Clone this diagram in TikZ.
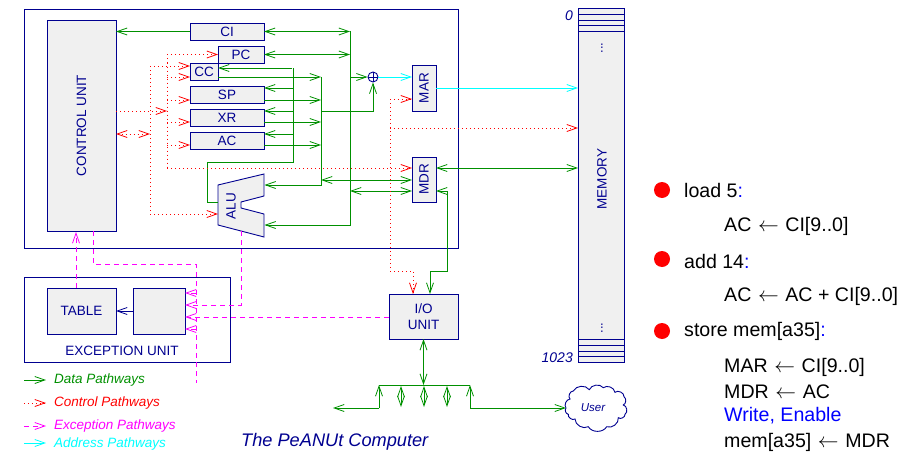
\documentclass[tikz,border=0pt]{standalone}
\usepackage{fontspec}
\setmainfont{Liberation Sans}
\usetikzlibrary{arrows.meta}
\definecolor{nv}{RGB}{0,0,144}
\definecolor{gr}{RGB}{0,144,0}
\definecolor{rd}{RGB}{255,0,0}
\definecolor{mg}{RGB}{255,0,255}
\definecolor{cy}{RGB}{0,255,255}
\definecolor{bl}{RGB}{0,0,255}
\definecolor{fillg}{RGB}{240,240,240}
\newcommand{\larr}{\hspace{6.6pt}{\fontsize{20.74}{21}\selectfont$\leftarrow$}\hspace{6.6pt}}
\tikzset{
  >={Straight Barb[length=10pt,width=7pt,line width=0.8pt]},
  box/.style={draw=nv,fill=fillg,line width=0.9pt,inner sep=0pt,outer sep=0pt,text=nv,font=\fontsize{13.5}{15.5}\selectfont,align=center},
  frame/.style={draw=nv,line width=0.9pt,inner sep=0pt,outer sep=0pt},
  data/.style={draw=gr,line width=0.9pt},
  ctrl/.style={draw=rd,line width=0.9pt,dash pattern=on 1pt off 3pt},
  exc/.style={draw=mg,line width=0.9pt,dash pattern=on 5pt off 4pt},
  addr/.style={draw=cy,line width=0.9pt},
  lbl/.style={font=\fontsize{13.5}{15.5}\selectfont,text=nv,inner sep=0pt},
  leg/.style={font=\fontsize{13.5}{15.5}\itshape,anchor=west,inner sep=0pt},
  big/.style={font=\fontsize{19.6}{22}\selectfont,anchor=west,inner sep=0pt,text=black},
  ball/.style={circle,fill=rd,minimum size=16pt,inner sep=0pt}
}
\begin{document}
\begin{tikzpicture}[x=1pt,y=-1pt]
\useasboundingbox (0,0) rectangle (912,452);
% frames
\node[frame,minimum width=434pt,minimum height=239pt] (cpu) at (241,128.5) {};
\node[frame,minimum width=206pt,minimum height=85pt] (excu) at (127,319.5) {};
% boxes
\node[box,minimum width=69pt,minimum height=211pt] (cu) at (81.5,125.5) {\rotatebox{90}{CONTROL UNIT}};
\node[box,minimum width=74pt,minimum height=17pt] (ci) at (227,31.5) {CI};
\node[box,minimum width=46pt,minimum height=17pt] (pc) at (241,54.5) {PC};
\node[box,minimum width=28pt,minimum height=17pt] (cc) at (204,71.5) {CC};
\node[box,minimum width=74pt,minimum height=17pt] (sp) at (227,94.5) {SP};
\node[box,minimum width=74pt,minimum height=17pt] (xr) at (227,117.5) {XR};
\node[box,minimum width=74pt,minimum height=17pt] (ac) at (227,140.5) {AC};
\node[box,minimum width=24pt,minimum height=46pt] (mar) at (424,88) {\rotatebox{90}{MAR}};
\node[box,minimum width=24pt,minimum height=45pt] (mdr) at (424,179.5) {\rotatebox{90}{MDR}};
\node[box,minimum width=46pt,minimum height=354pt] (mem) at (601,185) {};
\node[box,minimum width=69pt,minimum height=46pt] (tbl) at (81.5,311) {TABLE};
\node[box,minimum width=52pt,minimum height=46pt] (sbox) at (159,311) {};
\node[box,minimum width=69pt,minimum height=45pt] (io) at (423.5,316.5) {I/O\\UNIT};
\node[lbl] (excl) at (122,351) {EXCEPTION UNIT};
% ALU
\draw[draw=nv,fill=fillg,line width=0.9pt] (218,185) coordinate (aluA) -- (264,174) -- (264,196) coordinate (aluB) -- (241,202) -- (241,208) -- (264,214) coordinate (aluC) -- (264,237) -- (218,225) coordinate (aluD) -- cycle;
\node[lbl] (alu) at (231,206) {\rotatebox{90}{ALU}};
% memory detail
\foreach \yy in {14,20,25.5,31,339.5,345,351,356.5}{
  \draw[draw=nv,line width=0.9pt] (mem.west |- 0,\yy) -- (mem.east |- 0,\yy);
}
\node[lbl] (memlabel) at (602,179) {\rotatebox{90}{MEMORY}};
\node[lbl,font=\fontsize{13}{15}\selectfont] (dots1) at (602,48) {\rotatebox{90}{...}};
\node[lbl,font=\fontsize{13}{15}\selectfont] (dots2) at (602,328) {\rotatebox{90}{...}};
\node[lbl,font=\fontsize{14}{16}\itshape,anchor=east] (m0) at (573,16) {0};
\node[lbl,font=\fontsize{14}{16}\itshape,anchor=east] (m1) at (573,358) {1023};
% adder
\node[draw=nv,circle,minimum size=10pt,inner sep=0pt,line width=0.9pt] (add) at (373,77) {};
\draw[draw=nv,line width=0.9pt] (add.north) -- (add.south) (add.west) -- (add.east);
% buses
\coordinate (busA) at (350,0);
\coordinate (busB) at (321,0);
\coordinate (busC) at (293,0);
\coordinate (ctlA) at (167,0);
\coordinate (ctlB) at (150,0);
\coordinate (ctlC) at (390,0);
\coordinate (ioR) at (447,271);
% data
\draw[data,->] (ci.west) -- (cu.east |- ci.west);
\draw[data,<->] (ci.east) -- (busA |- ci.east);
\draw[data,<->] (pc.east) -- (busA |- pc.east);
\draw[data,->] (busA |- ci.east) -- (350,225) -- (264.5,225);
\draw[data,->] (busA |- add.west) -- (add.west);
\draw[data,->] ([yshift=3.5pt]cc.east) coordinate (t) ++(74,0) -- (t);
\draw[data,->] ([yshift=-5.5pt]cc.east) coordinate (t) -- (t -| busB);
\draw[data,->] ([yshift=-5.5pt]sp.east) coordinate (t) -- (t -| busB);
\draw[data,->] ([yshift=-4.5pt]xr.east) coordinate (t) -- (t -| busB);
\draw[data,->] ([yshift=-4.5pt]ac.east) coordinate (t) -- (t -| busB);
\draw[data,->] (t -| busC) ++(0,-11) coordinate (u) -- (ac.east |- u);
\draw[data,->] (busC |- 0,111) coordinate (u) -- (xr.east |- u);
\draw[data,->] (busC |- 0,88) coordinate (u) -- (sp.east |- u);
\draw[data] (busC |- 0,68) -- (293,162) -- (207,162) -- (207,202) -- (218,202);
\draw[data,->] (busB |- 0,77) -- (321,185) -- (264.5,185);
\draw[data,->] (busB |- 0,111) -| (add.south);
\draw[data,<->] (busB |- 0,180) -- (mdr.west |- 0,180);
\draw[data,<->] (busA |- 0,191) -- (mdr.west |- 0,191);
\draw[data,<->] (mdr.east |- 0,168) -- (mem.west |- 0,168);
\draw[data,<->] (mdr.east |- 0,191) -- (ioR |- 0,191) -- (ioR) -- (430,271) -- (io.north -| 430,0);
\draw[data,<->] (io.south) -- (io.south |- 0,385);
% bus below io
\coordinate (busL) at (379,385);
\coordinate (busR) at (470,385);
\coordinate (fl) at (333,408);
\coordinate (usr) at (566,408);
\node[inner sep=0pt,text=nv,font=\fontsize{11.5}{13}\itshape] (user) at (593,408) {User};
\draw[draw=nv,line width=0.9pt] (usr)
  to[bend left=60] (570,399) to[bend left=70] (573.3,391) to[bend left=60] (589.3,389.7)
  to[bend left=60] (603.3,387.7) to[bend left=60] (615,392.3) to[bend left=70] (624,396.7)
  to[bend left=60] (623.3,405) to[bend left=70] (625,414.3) to[bend left=70] (618.3,417.7)
  to[bend left=60] (606.7,426.7) to[bend left=60] (588.3,426.7) to[bend left=60] (575,419)
  to[bend left=70] (568.3,414.3) to[bend left=60] cycle;
\draw[data] (busL) -- (busR);
\draw[data,->] (379,408) -- (busL);
\draw[data,->] (379,408) -- (fl);
\draw[data,->] (470,408) -- (busR);
\draw[data,->] (470,408) -- (usr);
\draw[data,<->] (401,386) -- (401,407);
\draw[data,<->] (424,386) -- (424,407);
\draw[data,<->] (447,386) -- (447,407);
% control
\draw[ctrl,->] (cu.east |- 0,111) -- (ctlA |- 0,111);
\draw[ctrl,<->] (cu.east |- 0,134) -- (ctlB |- 0,134);
\draw[ctrl,->] (ctlA |- pc.west) coordinate (t) -- (pc.west);
\draw[ctrl] (t) -- (167,168) coordinate (u);
\draw[ctrl,->] (u) -- (mdr.west |- u);
\draw[ctrl,->] (ctlA |- 0,77) coordinate (t) -- (cc.west |- t);
\draw[ctrl,->] (ctlA |- 0,100) coordinate (t) -- (sp.west |- t);
\draw[ctrl,->] (ctlA |- 0,122) coordinate (t) -- (xr.west |- t);
\draw[ctrl,->] (ctlA |- 0,145) coordinate (t) -- (ac.west |- t);
\draw[ctrl,->] (ctlB |- 0,66) coordinate (t) -- (cc.west |- t);
\draw[ctrl,->] (t) -- (150,214) -- (218,214);
\draw[ctrl,->] (ctlC |- 0,99) coordinate (t) -- (mar.west |- t);
\draw[ctrl,->] (ctlC |- 0,128) coordinate (u) -- (mem.west |- u);
\draw[ctrl,->] (t) -- (390,271) -- (413,271) -- (413,294);
% address
\draw[addr,->] (add.east) -- (mar.west |- add.east);
\draw[addr,->] (mar.east) -- (mem.west |- mar.east);
% exception
\draw[exc,->] (tbl.north -| 76,0) -- (76,232);
\draw[exc] (93,231) -- (93,264) -- (196,264) -- (196,383) coordinate (excend);
\draw[exc,->] (196,293) -- (sbox.east |- 0,293);
\draw[exc,->] (196,329) -- (sbox.east |- 0,329);
\draw[exc,->] (241,231) -- (241,305) -- (sbox.east |- 0,305);
\draw[exc,->] (io.west |- 0,317) -- (sbox.east |- 0,317);
\draw[draw=nv,line width=0.9pt,->] (sbox.west) -- (tbl.east);
% legend
\coordinate (la) at (24,380); \coordinate (lb) at (46,380);
\draw[data,->] (la) -- (lb);
\node[leg,text=gr] (l1) at (54,380.5) {Data Pathways};
\coordinate (la) at (24,403); \coordinate (lb) at (46,403);
\draw[ctrl,->] (la) -- (lb);
\node[leg,text=rd] (l2) at (54,403) {Control Pathways};
\coordinate (la) at (24,426); \coordinate (lb) at (46,426);
\draw[exc,->] (la) -- (lb);
\node[leg,text=mg] (l3) at (54,426) {Exception Pathways};
\coordinate (la) at (24,443); \coordinate (lb) at (46,443);
\draw[addr,->] (la) -- (lb);
\node[leg,text=cy] (l4) at (54,444) {Address Pathways};
\node[big,text=nv,font=\fontsize{18.2}{20}\itshape] (title) at (241,442) {The PeANUt Computer};
% right text
\node[ball] (b1) at (662,190) {};
\node[ball] (b2) at (662,259) {};
\node[ball] (b3) at (662,331) {};
\node[big] (t1) at (684,190) {load 5\textcolor{bl}{:}};
\node[big] (t2) at (724,226.5) {AC\larr CI[9..0]};
\node[big] (t3) at (684,261) {add 14\textcolor{bl}{:}};
\node[big] (t4) at (724,296.5) {AC\larr AC + CI[9..0]};
\node[big] (t5) at (684,331) {store mem[a35]\textcolor{bl}{:}};
\node[big] (t6) at (724,367) {MAR\larr CI[9..0]};
\node[big] (t7) at (724,392) {MDR\larr AC};
\node[big,text=bl] (t8) at (724,416) {Write, Enable};
\node[big] (t9) at (724,442) {mem[a35]\larr MDR};
\end{tikzpicture}
\end{document}
